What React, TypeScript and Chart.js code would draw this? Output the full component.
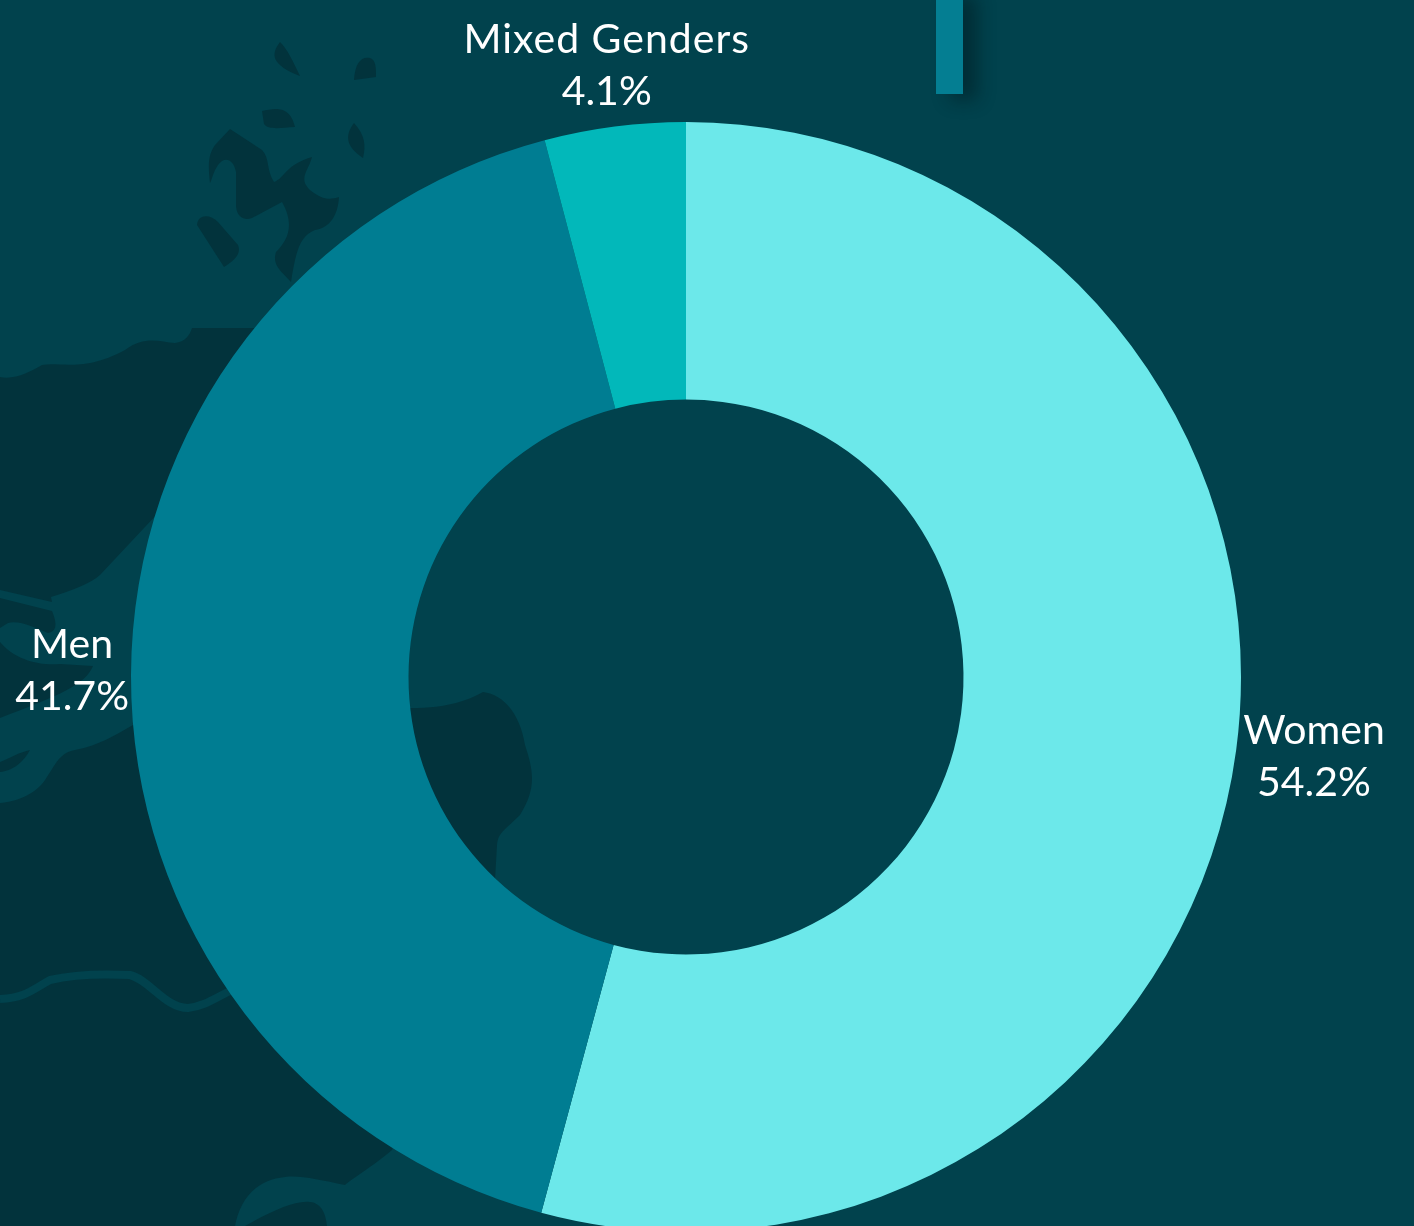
import React, { useEffect, useRef } from "react";
import { Chart, registerables } from "chart.js";

Chart.register(...registerables);

const categories = ["Women", "Men", "Mixed Genders"];
const shares = [54.2, 41.7, 4.1];
const sliceColors = ["#6ce8ea", "#007d92", "#02b8ba"];

const BG = "#01424d";
const LAND = "#02333c";
const FONT = "400 41px Lato, 'Open Sans', sans-serif";
const LINE = 52;

const outsideLabels = {
  id: "outsideLabels",
  afterDatasetsDraw(chart: any) {
    const { ctx } = chart;
    const arcs = chart.getDatasetMeta(0).data;
    ctx.save();
    ctx.fillStyle = "#ffffff";
    ctx.font = FONT;
    ctx.textBaseline = "alphabetic";
    arcs.forEach((arc: any, i: number) => {
      const mid = (arc.startAngle + arc.endAngle) / 2;
      const px = arc.x + Math.cos(mid) * arc.outerRadius;
      const py = arc.y + Math.sin(mid) * arc.outerRadius;
      const lines = [categories[i], shares[i].toFixed(1) + "%"];
      let cx: number;
      let top: number;
      if (Math.abs(Math.cos(mid)) < 0.3) {
        cx = px - 8;
        top = py - 74;
      } else {
        const widest = Math.max(...lines.map((t) => ctx.measureText(t).width));
        cx = Math.cos(mid) > 0 ? px + 9 + widest / 2 - 2 : px - 2 - widest / 2;
        top = Math.cos(mid) > 0 ? py - 6 : py - 17;
      }
      ctx.textAlign = "center";
      lines.forEach((t, n) => {
        (ctx as any).letterSpacing = t.length > 8 ? "1px" : "0px";
        ctx.fillText(t, cx, top + n * LINE);
      });
    });
    ctx.restore();
  },
};

export default function App() {
  const ref = useRef<HTMLCanvasElement>(null);
  useEffect(() => {
    const chart = new Chart(ref.current!, {
      type: "doughnut",
      data: {
        labels: categories,
        datasets: [{ data: shares, backgroundColor: sliceColors, borderWidth: 0 }],
      },
      options: {
        animation: false,
        responsive: false,
        cutout: "50%",
        layout: { padding: { left: 131, right: 173, top: 122, bottom: 122 } },
        plugins: { legend: { display: false }, tooltip: { enabled: false } },
      },
      plugins: [outsideLabels],
    });
    return () => chart.destroy();
  }, []);

  return (
    <div style={{ position: "fixed", left: 0, top: 0, width: 1414, height: 1226, overflow: "hidden", background: BG }}>
      <svg width={1414} height={1226} style={{ position: "absolute", left: 0, top: 0 }}>
        <g fill={LAND}>
          <path d="M280 42 C270 55 272 65 300 76 C292 60 288 50 280 42Z" />
          <path d="M354 80 C355 62 362 56 370 58 C376 60 376 68 376 77Z" />
          <path d="M262 111 C275 108 290 105 295 127 C280 128 268 130 264 124Z" />
          <path d="M354 123 C345 135 345 146 363 158 C366 145 365 135 354 123Z" />
          <path d="M230 129 L262 150 C270 158 266 170 274 182 C285 178 285 165 312 157 C308 172 298 178 310 190 C322 200 330 200 339 197 C338 215 330 228 315 230 C300 236 296 250 291 282 C280 270 272 265 276 252 C288 240 295 225 282 202 L252 218 C240 222 236 212 236 205 L236 172 C234 160 225 155 218 165 C213 172 212 180 210 183 C208 165 208 155 215 145Z" />
          <path d="M197 225 C198 214 210 214 218 222 L238 245 C242 255 232 262 224 267Z" />
          <path d="M0 377 C15 380 30 372 42 365 C60 362 85 372 125 350 C145 335 160 342 175 343 C185 342 190 335 192 328 L380 328 L380 704 L410 708 C450 708 468 700 483 692 C505 695 520 715 525 745 C535 775 535 790 520 815 C505 830 498 832 497 845 L495 880 L330 1060 L400 1120 L392 1150 C375 1165 350 1180 345 1185 C320 1180 300 1175 285 1177 C255 1180 240 1200 235 1226 L0 1226Z" />
        </g>
        <path d="M245 1226 C270 1212 295 1200 310 1202 C322 1203 326 1215 327 1226Z" fill={LAND} />
        <g fill={BG}>
          <path d="M0 590 L52 602 L51 597 C75 590 92 582 100 575 L175 495 L200 760 L133 725 C115 735 100 745 75 750 C60 752 55 765 45 780 C35 795 15 802 0 803Z" />
        </g>
        <g fill={LAND}>
          <path d="M0 598 L52 611 C58 625 56 632 48 633 C35 628 20 620 8 623 L0 628Z" />
          <path d="M0 718 L0 642 C15 660 40 666 60 664 L93 666 C85 685 60 695 0 718Z" />
          <path d="M0 762 C10 758 20 752 30 750 C22 765 10 771 0 772Z" />
        </g>
        <path d="M0 999 C25 998 32 990 50 980 C75 974 110 974 130 975 C150 980 165 1008 188 1008 C205 1006 215 998 232 990" fill="none" stroke={BG} strokeWidth={8} />
      </svg>
      <div style={{ position: "absolute", left: 936, top: -10, width: 27, height: 104, background: "#047e92", boxShadow: "14px 6px 18px rgba(0,20,25,0.45)" }} />
      <canvas ref={ref} width={1414} height={1354} style={{ position: "absolute", left: 0, top: 0, display: "block" }} />
    </div>
  );
}
